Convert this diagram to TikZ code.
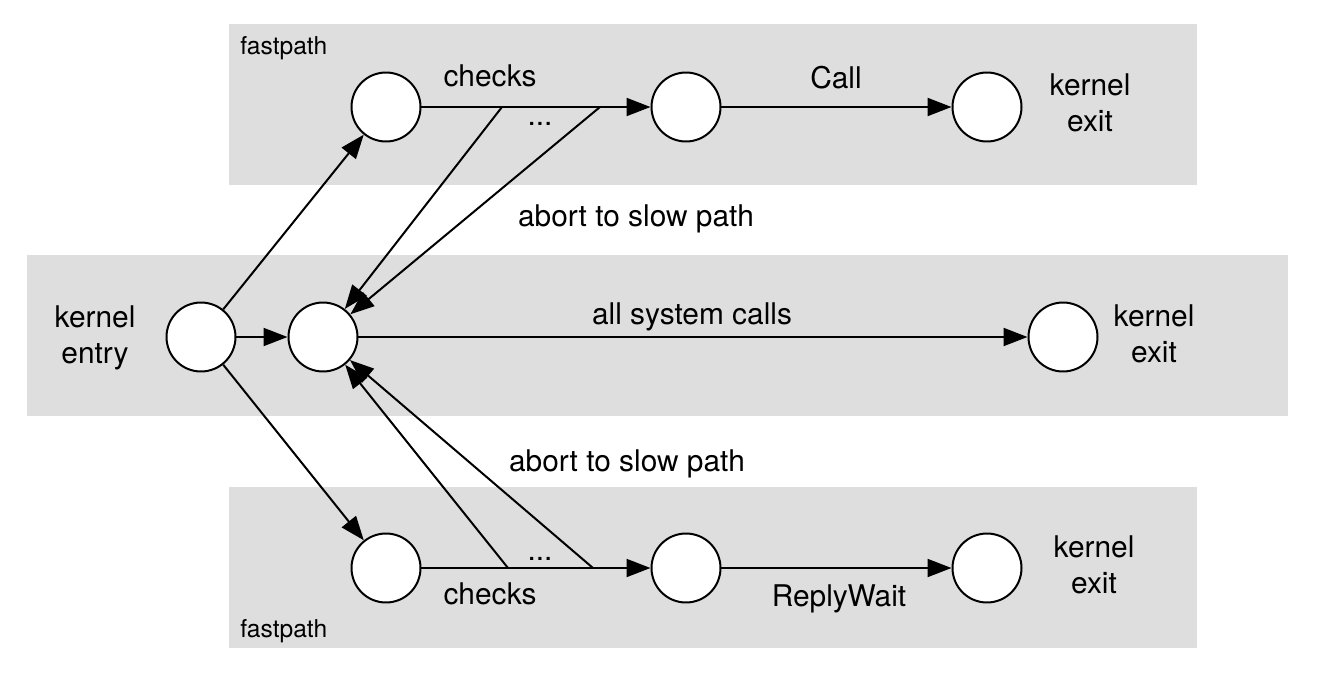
\documentclass[tikz,border=0pt]{standalone}
\usepackage{fontspec}
\setmainfont{TeX Gyre Heros}
\usetikzlibrary{arrows.meta}
\definecolor{bandgray}{RGB}{222,222,222}

\begin{document}
\begin{tikzpicture}[x=0.02cm,y=-0.02cm,
    state/.style={circle,draw,fill=white,line width=0.04cm,inner sep=0pt,minimum size=1.38cm},
    conn/.style={line width=0.04cm,-{Triangle[length=0.48cm,width=0.36cm]}},
    plain/.style={line width=0.04cm},
    lbl/.style={inner sep=0pt,anchor=base,font=\fontsize{17}{20}\selectfont},
    tag/.style={inner sep=0pt,anchor=base west,font=\fontsize{14}{17}\selectfont}]
\useasboundingbox (0,0) rectangle (1320,673);

% Grey bands
\fill [bandgray] (229,24) rectangle (1197,185);%
\fill [bandgray] (27,255) rectangle (1288,416);%
\fill [bandgray] (229,487) rectangle (1197,648);%
\node [tag] (tagtop) at (240,54) {fastpath};%
\node [tag] (tagbot) at (240,637) {fastpath};%

% Marking the states
\node [state] (entry) at (201,337) {};%
\node [state] (slow) at (323,337) {};%
\node [state] (slowexit) at (1063,337) {};%
\node [state] (top1) at (386,107) {};%
\node [state] (top2) at (686,107) {};%
\node [state] (topexit) at (987,107) {};%
\node [state] (bot1) at (386,568) {};%
\node [state] (bot2) at (686,568) {};%
\node [state] (botexit) at (987,568) {};%

% Branch points on the checks lines
\coordinate (topa) at (502,107);%
\coordinate (topb) at (600,107);%
\coordinate (bota) at (508,568);%
\coordinate (botb) at (593,568);%

% Drawing the slow path
\draw [conn] (entry) -- (slow);%
\draw [conn] (slow) -- (slowexit);%
\draw [conn] (entry) -- (top1);%
\draw [conn] (entry) -- (bot1);%

% Drawing the upper fastpath
\draw [conn] (top1) -- (top2);%
\draw [conn] (top2) -- (topexit);%
\draw [conn] (topa) -- (slow);%
\draw [conn] (topb) -- (slow);%

% Drawing the lower fastpath
\draw [conn] (bot1) -- (bot2);%
\draw [conn] (bot2) -- (botexit);%
\draw [conn] (bota) -- (slow);%
\draw [conn] (botb) -- (slow);%

% Labels (base = baseline of the last line)
\node [lbl,align=center] (entrytxt) at (95,363) {kernel\\entry};%
\node [lbl,align=center] (slowexittxt) at (1154,362) {kernel\\exit};%
\node [lbl,align=center] (topexittxt) at (1090,131) {kernel\\exit};%
\node [lbl,align=center] (botexittxt) at (1094,593) {kernel\\exit};%
\node [lbl] (allcalls) at (692,324) {all system calls};%
\node [lbl] (checkstop) at (490,86) {checks};%
\node [lbl] (checksbot) at (490,604) {checks};%
\node [lbl] (dotstop) at (540,125) {...};%
\node [lbl] (dotsbot) at (540,560) {...};%
\node [lbl] (calltxt) at (836,88) {Call};%
\node [lbl] (replytxt) at (839,606) {ReplyWait};%
\node [lbl] (aborttop) at (636,226) {abort to slow path};%
\node [lbl] (abortbot) at (627,471) {abort to slow path};%
\end{tikzpicture}
\end{document}
